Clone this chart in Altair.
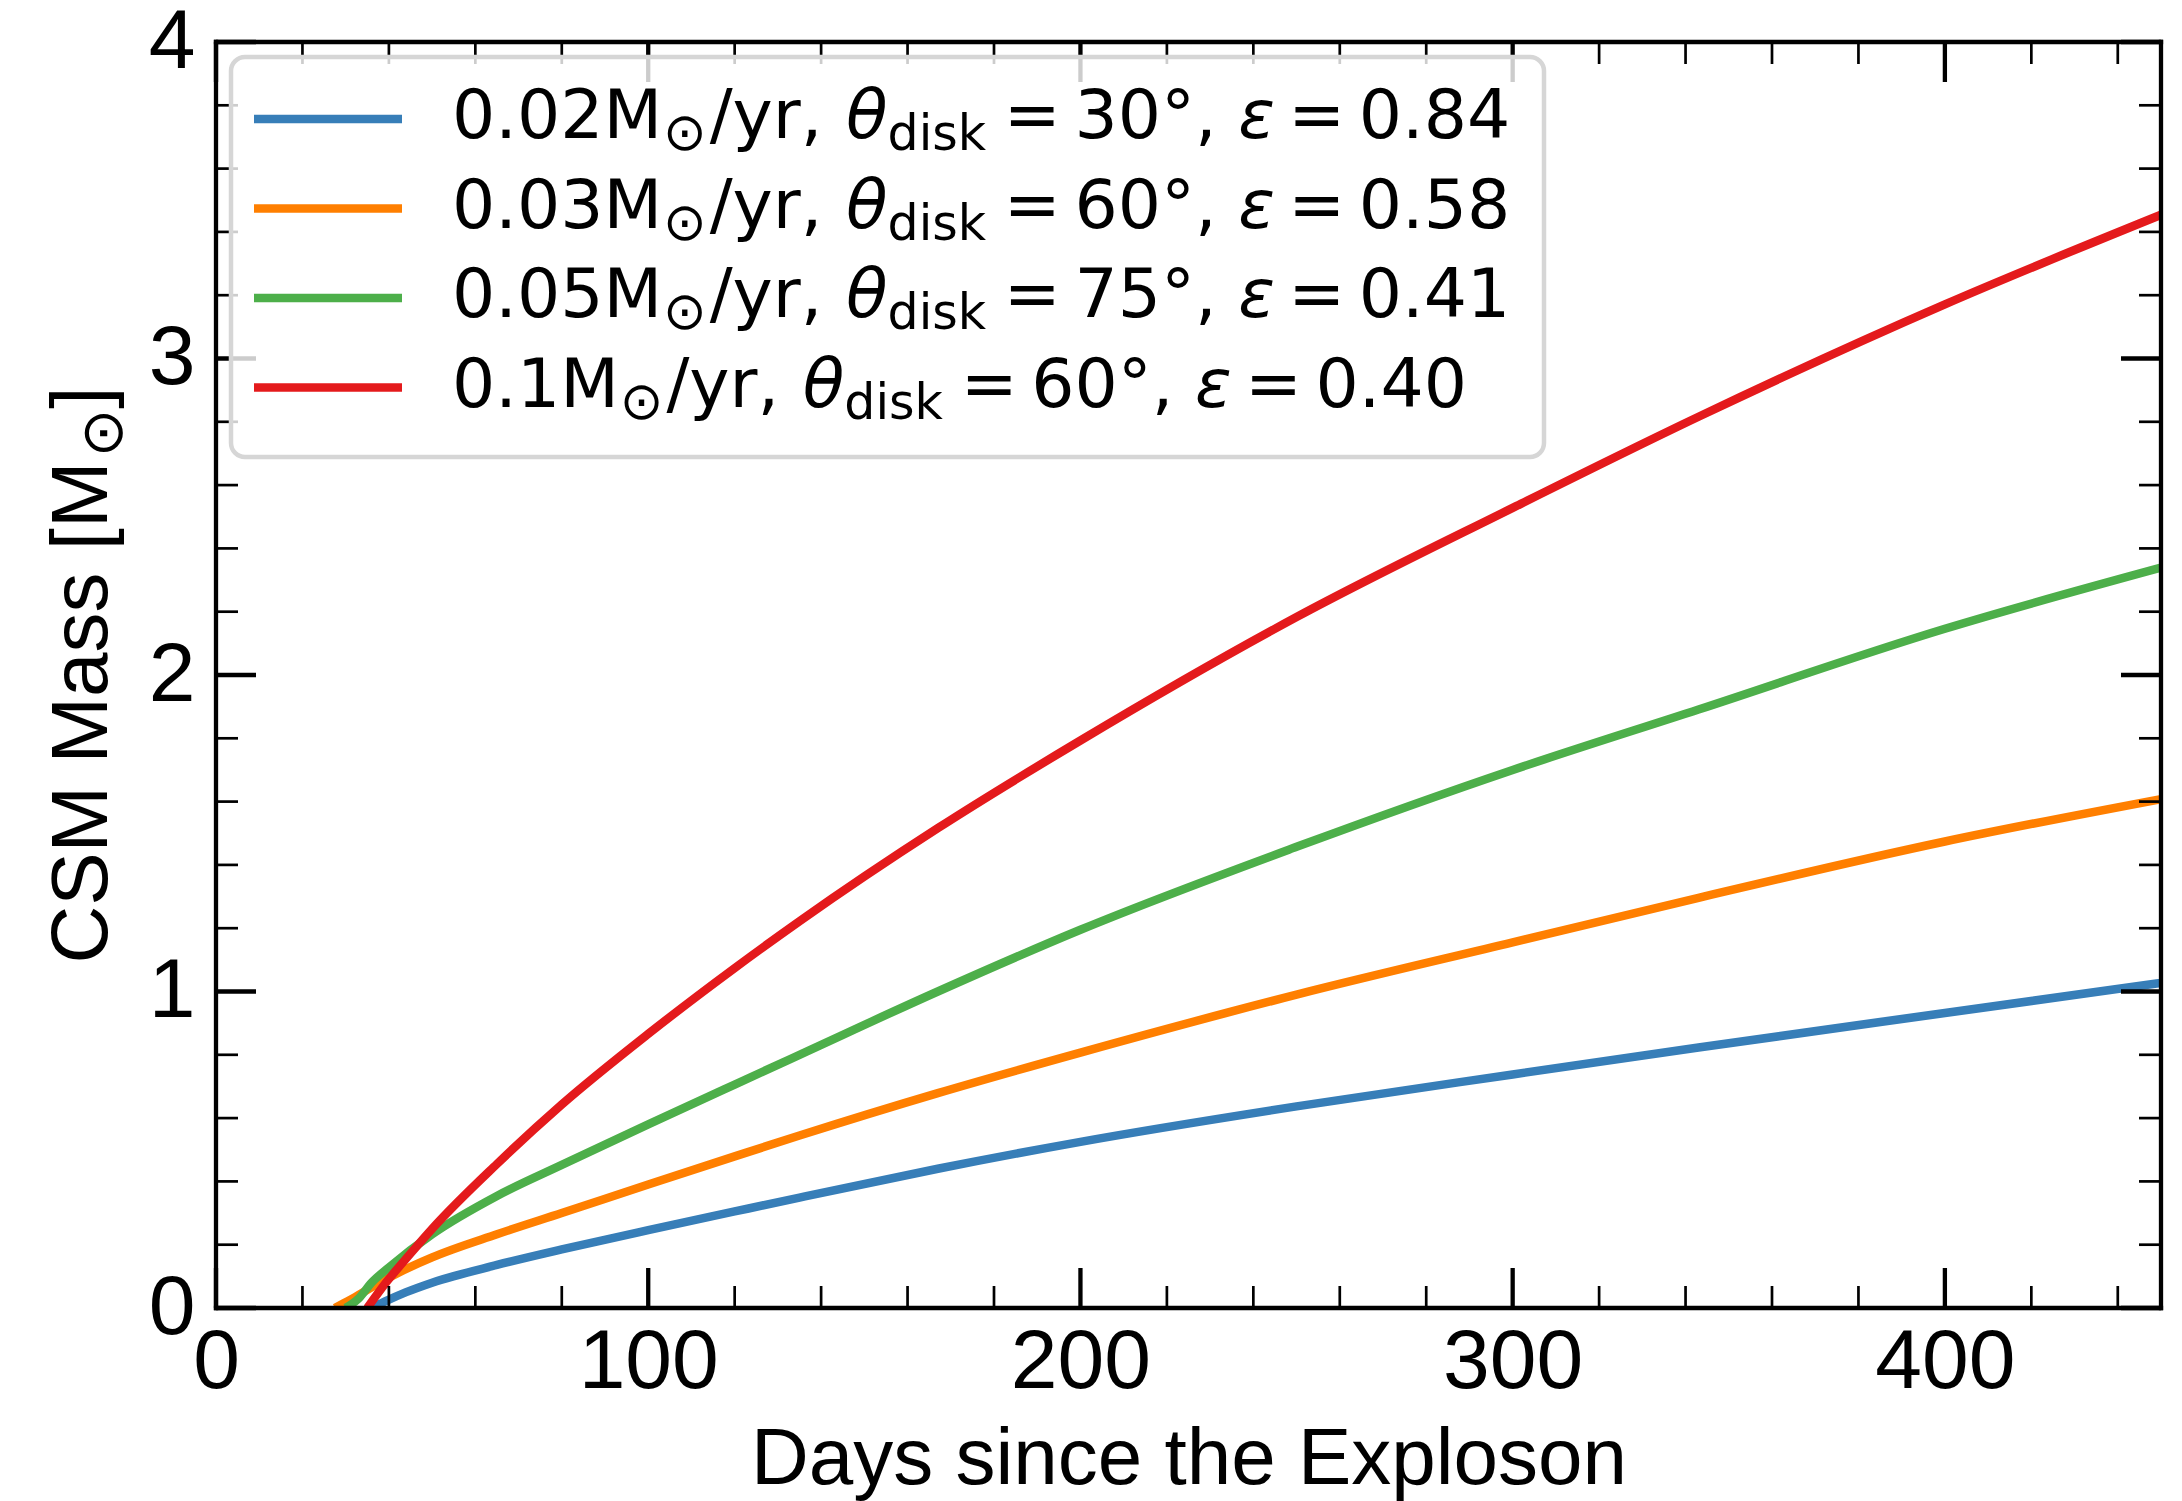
import altair as alt
import pandas as pd

# ------------------------------------------------------------------ data
blue_day = [36, 39, 44, 50, 65, 80, 100, 120, 135, 167, 200, 250, 300, 343, 400, 450]
blue_mass = [0.0, 0.02, 0.05, 0.08, 0.136, 0.185, 0.246, 0.305, 0.349, 0.44, 0.525, 0.637, 0.738, 0.823, 0.932, 1.027]

orange_day = [27.5, 31, 36, 42, 50, 65, 80, 100, 120, 135, 167, 200, 250, 300, 343, 400, 450]
orange_mass = [0.0, 0.025, 0.065, 0.11, 0.16, 0.233, 0.30, 0.39, 0.479, 0.545, 0.679, 0.807, 0.99, 1.155, 1.296, 1.474, 1.608]

green_day = [30, 33, 36, 40, 50, 65, 80, 100, 120, 135, 167, 200, 250, 300, 343, 400, 450]
green_mass = [0.0, 0.03, 0.08, 0.128, 0.233, 0.354, 0.452, 0.58, 0.706, 0.80, 1.0, 1.195, 1.457, 1.70, 1.891, 2.146, 2.339]

red_day = [35, 39.5, 45, 50, 65, 80, 100, 120, 135, 167, 200, 250, 300, 343, 400, 450]
red_mass = [0.0, 0.083, 0.172, 0.25, 0.455, 0.643, 0.866, 1.074, 1.222, 1.516, 1.793, 2.183, 2.528, 2.816, 3.171, 3.454]

series_color = ["#377eb8", "#ff7f00", "#4daf4a", "#e41a1c"]
legend_rate = ["0.02", "0.03", "0.05", "0.1"]
legend_angle = ["30", "60", "75", "60"]
legend_eps = ["0.84", "0.58", "0.41", "0.40"]

x_major_ticks = [0, 100, 200, 300, 400]
x_minor_ticks = [20, 40, 60, 80, 120, 140, 160, 180, 220, 240, 260, 280,
                 320, 340, 360, 380, 420, 440]
y_major_ticks = [0, 1, 2, 3, 4]
y_minor_ticks = [0.2, 0.4, 0.6, 0.8, 1.2, 1.4, 1.6, 1.8, 2.2, 2.4, 2.6, 2.8,
                 3.2, 3.4, 3.6, 3.8]

x_title = "Days since the Exploson"

# ------------------------------------------------------------------ layout
W, H = 1945, 1266
LAB = "Liberation Sans"
LEG = "DejaVu Sans"
LW = 8.5
SPINE = 4.3
MAJ_LEN, MIN_LEN = 40, 22
MAJ_W, MIN_W = 4.3, 2.7

xscale = alt.Scale(domain=[0, 450], nice=False, zero=False)
yscale = alt.Scale(domain=[0, 4], nice=False, zero=False)

xaxis = alt.Axis(values=x_major_ticks, format="d", title=x_title, domain=False,
                 ticks=False, tickSize=0, grid=False, labelFontSize=84,
                 labelFont=LAB, labelColor="black", labelPadding=13,
                 labelFlush=False, labelOverlap=False, titleFontSize=80,
                 titleFont=LAB, titleFontWeight="normal", titleColor="black",
                 titleY=175, titleBaseline="alphabetic")
yaxis = alt.Axis(values=y_major_ticks, format="d", title=None, domain=False,
                 ticks=False, tickSize=0, grid=False, labelFontSize=84,
                 labelFont=LAB, labelColor="black", labelPadding=21,
                 labelFlush=False, labelOverlap=False)

layers = []

# data lines
for d, m, c in [(blue_day, blue_mass, series_color[0]),
                (orange_day, orange_mass, series_color[1]),
                (green_day, green_mass, series_color[2]),
                (red_day, red_mass, series_color[3])]:
    df = pd.DataFrame({"day": d, "mass": m})
    layers.append(
        alt.Chart(df).mark_line(color=c, strokeWidth=LW, interpolate="monotone",
                                clip=True, strokeCap="butt")
        .encode(x=alt.X("day:Q", scale=xscale, axis=xaxis),
                y=alt.Y("mass:Q", scale=yscale, axis=yaxis))
    )

# inward ticks on all four sides
for vals, length, width in [(x_major_ticks, MAJ_LEN, MAJ_W), (x_minor_ticks, MIN_LEN, MIN_W)]:
    df = pd.DataFrame({"day": vals})
    base = alt.Chart(df).mark_rule(color="black", strokeWidth=width)
    layers.append(base.encode(x=alt.X("day:Q", scale=xscale, axis=xaxis),
                              y=alt.value(H), y2=alt.value(H - length)))
    layers.append(base.encode(x=alt.X("day:Q", scale=xscale, axis=xaxis),
                              y=alt.value(0), y2=alt.value(length)))
for vals, length, width in [(y_major_ticks, MAJ_LEN, MAJ_W), (y_minor_ticks, MIN_LEN, MIN_W)]:
    df = pd.DataFrame({"mass": vals})
    base = alt.Chart(df).mark_rule(color="black", strokeWidth=width)
    layers.append(base.encode(y=alt.Y("mass:Q", scale=yscale, axis=yaxis),
                              x=alt.value(0), x2=alt.value(length)))
    layers.append(base.encode(y=alt.Y("mass:Q", scale=yscale, axis=yaxis),
                              x=alt.value(W), x2=alt.value(W - length)))

dummy = pd.DataFrame({"k": [0]})

# spines
spine = alt.Chart(dummy).mark_rule(color="black", strokeWidth=SPINE, strokeCap="square")
layers += [
    spine.encode(x=alt.value(0), x2=alt.value(W), y=alt.value(0)),
    spine.encode(x=alt.value(0), x2=alt.value(W), y=alt.value(H)),
    spine.encode(x=alt.value(0), y=alt.value(0), y2=alt.value(H)),
    spine.encode(x=alt.value(W), y=alt.value(0), y2=alt.value(H)),
]

# y axis title with subscript sun symbol (rotated text pieces)
ARIAL = {"C": 0.722, "S": 0.667, "M": 0.833, " ": 0.278, "a": 0.556, "s": 0.5,
         "[": 0.278, "]": 0.278}
YT_FS, YT_SFS = 80, 58
yt_main = "CSM Mass [M"
w_main = sum(ARIAL[ch] for ch in yt_main) * YT_FS
w_sun = 0.838 * YT_SFS
w_close = 0.278 * YT_FS
total = w_main + 4 + w_sun + w_close
y_start = H / 2 + total / 2
x_base = -109
layers.append(alt.Chart(dummy).mark_text(text=yt_main, font=LAB, fontSize=YT_FS, angle=270,
                                         align="left", baseline="alphabetic", color="black")
              .encode(x=alt.value(x_base), y=alt.value(y_start)))
layers.append(alt.Chart(dummy).mark_text(text="\u2299", font=LEG, fontSize=YT_SFS, angle=270,
                                         align="left", baseline="alphabetic", color="black")
              .encode(x=alt.value(x_base + 15), y=alt.value(y_start - w_main - 4)))
layers.append(alt.Chart(dummy).mark_text(text="]", font=LAB, fontSize=YT_FS, angle=270,
                                         align="left", baseline="alphabetic", color="black")
              .encode(x=alt.value(x_base), y=alt.value(y_start - w_main - 4 - w_sun)))

# legend frame
layers.append(alt.Chart(dummy).mark_rect(fill="white", fillOpacity=0.8, stroke="#d6d6d6",
                                         strokeWidth=4.5, cornerRadius=14)
              .encode(x=alt.value(15), x2=alt.value(1328), y=alt.value(15), y2=alt.value(415)))

# legend entries (custom, to allow subscripts)
DV = {"0": 0.636, "1": 0.636, "2": 0.636, "3": 0.636, "4": 0.636, "5": 0.636,
      "6": 0.636, "7": 0.636, "8": 0.636, "9": 0.636, ".": 0.318, ",": 0.318,
      " ": 0.318, "\u2009": 0.2, "M": 0.863, "/": 0.337, "y": 0.592, "r": 0.411,
      "=": 0.838, "\u00b0": 0.5, "d": 0.635, "i": 0.278, "s": 0.521, "k": 0.579,
      "\u03b8": 0.612, "\u03b5": 0.535, "\u2299": 0.838}


def tw(s, size):
    return sum(DV.get(ch, 0.6) for ch in s) * size


FS, SUN_FS, SFS, SUB_DY = 68, 52, 49, 12
SPACE = 0.318 * FS
THIN = 0.2 * FS
TX0, BASE0, ROW = 236, 96, 89.5
for i in range(4):
    base_y = BASE0 + i * ROW
    layers.append(alt.Chart(dummy).mark_rule(color=series_color[i], strokeWidth=LW)
                  .encode(x=alt.value(38), x2=alt.value(186), y=alt.value(base_y - 19)))
    # (text, size, style, vertical shift, gap before)
    pieces = [
        (legend_rate[i] + "M", FS, "normal", 0, 0),
        ("\u2299", SUN_FS, "normal", SUB_DY, 1),
        ("/yr,", FS, "normal", 0, 3),
        ("\u03b8", FS, "italic", 0, SPACE + 2),
        ("disk", SFS, "normal", SUB_DY, 0),
        ("=", FS, "normal", 0, SPACE - 4),
        (legend_angle[i] + "\u00b0,", FS, "normal", 0, THIN),
        ("\u03b5", FS, "italic", 0, SPACE),
        ("=", FS, "normal", 0, THIN),
        (legend_eps[i], FS, "normal", 0, THIN),
    ]
    x = TX0
    for txt, size, style, dy, gap in pieces:
        x += gap
        layers.append(alt.Chart(dummy).mark_text(text=txt, font=LEG, fontSize=size,
                                                 fontStyle=style, align="left",
                                                 baseline="alphabetic", color="black")
                      .encode(x=alt.value(x), y=alt.value(base_y + dy)))
        x += tw(txt, size)

chart = (
    alt.layer(*layers)
    .properties(width=W, height=H,
                padding={"left": 216, "top": 42, "right": 21, "bottom": 193},
                autosize=alt.AutoSizeParams(type="none"),
                background="white")
    .configure_view(strokeWidth=0)
)

chart.save("out.html", embed_options={"renderer": "svg", "actions": False})
